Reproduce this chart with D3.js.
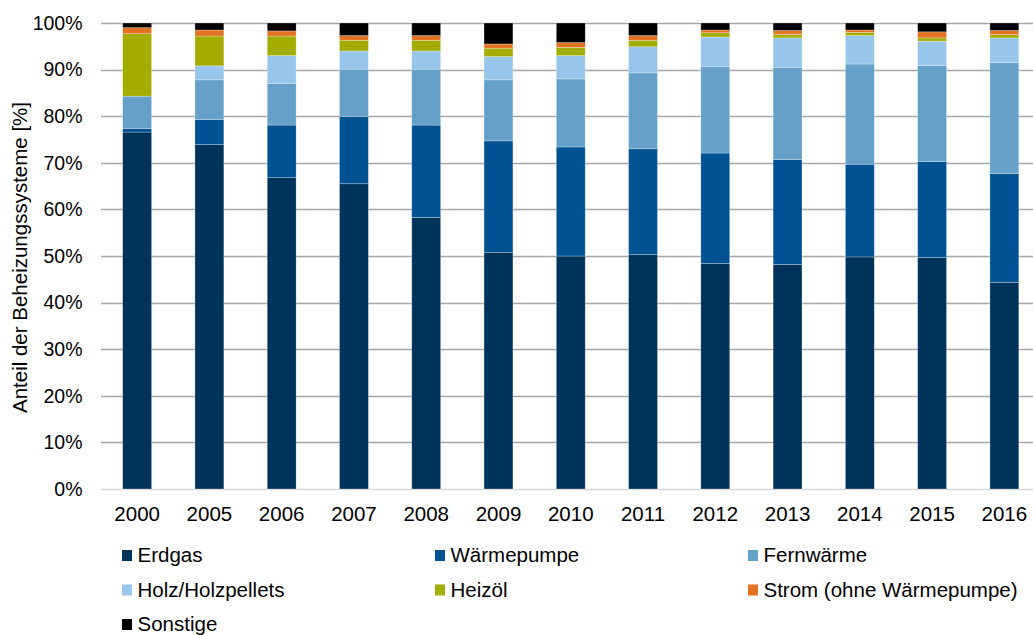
<!DOCTYPE html>
<html>
<head>
<meta charset="utf-8">
<script src="https://cdn.jsdelivr.net/npm/d3@7"></script>
<style>
  body { margin: 0; background: #fff; }
  svg text { font-family: "Liberation Sans", Arial, sans-serif; fill: #000; }
</style>
</head>
<body>
<svg class="chart"></svg>
<script>
const years = ["2000", "2005", "2006", "2007", "2008", "2009", "2010", "2011", "2012", "2013", "2014", "2015", "2016"];
const seriesNames = ["Erdgas", "Wärmepumpe", "Fernwärme", "Holz/Holzpellets", "Heizöl", "Strom (ohne Wärmepumpe)", "Sonstige"];
const erdgas      = [76.6, 73.9, 66.8, 65.5, 58.3, 50.8, 50.0, 50.3, 48.4, 48.2, 49.8, 49.7, 44.3];
const waermepumpe = [0.8, 5.4, 11.3, 14.4, 19.8, 23.9, 23.4, 22.7, 23.7, 22.5, 19.9, 20.6, 23.4];
const fernwaerme  = [6.9, 8.5, 8.9, 10.2, 12.0, 13.1, 14.6, 16.3, 18.5, 19.8, 21.5, 20.6, 23.8];
const holz        = [0.0, 3.0, 6.0, 3.9, 3.9, 5.0, 5.0, 5.6, 6.4, 6.3, 6.1, 5.2, 5.3];
const heizoel     = [13.4, 6.4, 4.2, 2.3, 2.3, 1.8, 1.8, 1.4, 0.9, 0.8, 0.7, 0.7, 0.7];
const strom       = [1.3, 1.3, 1.1, 1.0, 1.0, 0.9, 1.0, 1.0, 0.6, 0.8, 0.5, 1.3, 0.9];
const sonstige    = [1.0, 1.5, 1.7, 2.7, 2.7, 4.5, 4.2, 2.7, 1.5, 1.6, 1.5, 1.9, 1.6];
const yTicks = [0, 10, 20, 30, 40, 50, 60, 70, 80, 90, 100];

const colors = ["#003359", "#005293", "#64A0C8", "#98C6EA", "#A2AD00", "#E37222", "#000000"];
const values = [erdgas, waermepumpe, fernwaerme, holz, heizoel, strom, sonstige];

const table = years.map((yr, i) => {
    const row = {year: yr};
    seriesNames.forEach((s, j) => row[s] = values[j][i]);
    return row;
});

const W = 1033, H = 635;
const margin = {top: 23, right: 0, bottom: 146, left: 101},
    width = W - margin.left - margin.right,
    height = H - margin.top - margin.bottom;

const root = d3.select(".chart").attr("width", W).attr("height", H);
const svg = root.append("g").attr("transform", `translate(${margin.left},${margin.top})`);

// 13 slots of ~72.3px each
const x = d3.scaleBand().domain(years).range([0, 939.5]).paddingInner(0.6).paddingOuter(0.3);
const y = d3.scaleLinear().domain([0, 100]).range([height, 0]);

// gridlines
svg.append("g")
    .selectAll("line")
    .data(yTicks)
    .join("line")
    .attr("x1", 0).attr("x2", width)
    .attr("y1", d => Math.round(y(d)) + 0.5).attr("y2", d => Math.round(y(d)) + 0.5)
    .attr("stroke", d => d === 0 ? "#d9d9d9" : "#a6a6a6")
    .attr("stroke-width", 1.5);

// y labels
svg.append("g")
    .selectAll("text")
    .data(yTicks)
    .join("text")
    .attr("x", -18.5)
    .attr("y", d => y(d))
    .attr("dy", "0.35em")
    .attr("text-anchor", "end")
    .attr("font-size", 19.5)
    .text(d => d + "%");

// bars
const stack = d3.stack().keys(seriesNames)(table);
svg.append("g")
    .selectAll("g")
    .data(stack)
    .join("g")
    .attr("fill", (d, i) => colors[i])
    .selectAll("rect")
    .data(d => d)
    .join("rect")
    .attr("x", d => x(d.data.year))
    .attr("width", x.bandwidth())
    .attr("y", d => y(d[1]))
    .attr("height", d => Math.max(0, y(d[0]) - y(d[1])))
    .attr("stroke", "#ffffff")
    .attr("stroke-opacity", 0.45)
    .attr("stroke-width", 0.6);

// x labels
svg.append("g")
    .selectAll("text")
    .data(years)
    .join("text")
    .attr("x", d => x(d) + x.bandwidth() / 2)
    .attr("y", height + 32)
    .attr("text-anchor", "middle")
    .attr("font-size", 20.5)
    .text(d => d);

// y title
root.append("text")
    .attr("transform", "translate(27,257.5) rotate(-90)")
    .attr("text-anchor", "middle")
    .attr("font-size", 20.5)
    .text("Anteil der Beheizungssysteme [%]");

// legend
const legend = root.append("g");
seriesNames.forEach((s, i) => {
    const col = i % 3, row = Math.floor(i / 3);
    const lx = 122 + col * 313, ly = 550 + row * 34.5;
    legend.append("rect")
        .attr("x", lx).attr("y", ly)
        .attr("width", 10).attr("height", 11)
        .attr("fill", colors[i]);
    legend.append("text")
        .attr("x", lx + 15.5).attr("y", ly + 12)
        .attr("font-size", 20.5)
        .text(s);
});
</script>
</body>
</html>
